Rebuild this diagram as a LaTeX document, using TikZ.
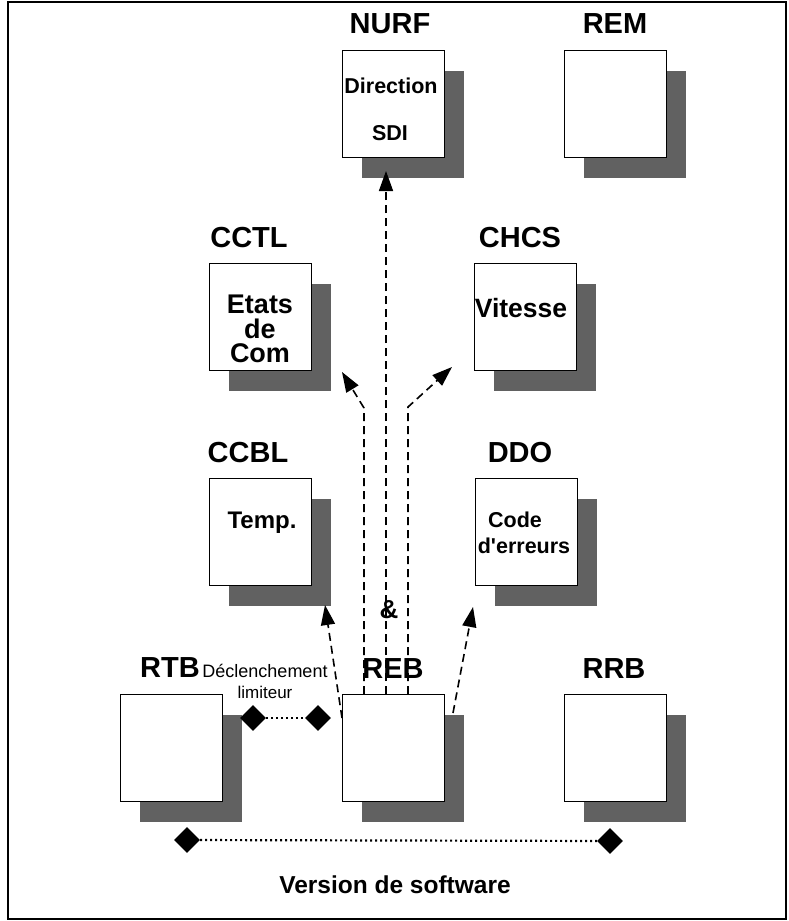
\documentclass[tikz,border=0pt]{standalone}
\usepackage{fontspec}
\setmainfont{Liberation Sans}
\newfontfamily\plainsans{Liberation Sans}
\usetikzlibrary{shapes.geometric,shadows,arrows.meta}
\tikzset{
  sbox/.style={draw, fill=white, line width=1.4pt, minimum width=102pt, minimum height=107pt,
    anchor=north west, inner sep=0pt,
    drop shadow={shadow xshift=19pt, shadow yshift=-20pt, fill=black!62, opacity=1}},
  ttl/.style={anchor=base, font=\fontsize{29}{30}\selectfont\bfseries, inner sep=0pt},
  inner/.style={anchor=base, font=\fontsize{#1}{#1}\selectfont\bfseries, inner sep=0pt},
  small/.style={anchor=base, font=\fontsize{#1}{#1}\selectfont, inner sep=0pt},
  dsh/.style={line width=1.6pt, dash pattern=on 8pt off 5pt, -{Triangle[length=20pt,width=14pt]}},
  dotl/.style={line width=2.2pt, dash pattern=on 2pt off 3pt},
  dmd/.style={diamond, fill=black, minimum width=26pt, minimum height=26pt, inner sep=0pt}
}
\begin{document}
\begin{tikzpicture}[x=1pt,y=-1pt]
\useasboundingbox (0,0) rectangle (788,921);
\draw[line width=1.5pt] (8,2) rectangle (786,919);

% boxes
\node[sbox] (nurf) at (342,50) {};
\node[sbox] (rem)  at (564,50) {};
\node[sbox] (cctl) at (209,263) {};
\node[sbox] (chcs) at (474,263) {};
\node[sbox] (ccbl) at (209,478) {};
\node[sbox] (ddo)  at (475,478) {};
\node[sbox] (rtb)  at (120,694) {};
\node[sbox] (reb)  at (342,694) {};
\node[sbox] (rrb)  at (564,694) {};

% titles
\node[ttl] (tnurf) at (390,33) {NURF};
\node[ttl] (trem)  at (615,33) {REM};
\node[ttl] (tcctl) at (249,247) {CCTL};
\node[ttl] (tchcs) at (520,247) {CHCS};
\node[ttl] (tccbl) at (248,462) {CCBL};
\node[ttl] (tddo)  at (520,462) {DDO};
\node[ttl] (trtb)  at (170,677) {RTB};
\node[ttl] (treb)  at (393,678) {REB};
\node[ttl] (trrb)  at (614,678) {RRB};

% inner texts
\node[inner=21.5] (i1) at (391,93) {Direction};
\node[inner=21.5] (i2) at (390,140) {SDI};
\node[anchor=north, align=center, inner sep=0pt,
      font=\fontsize{27}{24.5}\selectfont\bfseries] (i3) at (260,295) {Etats\\de\\Com};
\node[inner=26.5] (i6) at (521,317) {Vitesse};
\node[inner=24] (i7) at (262,528) {Temp.};
\node[inner=21.5] (i8) at (515,527) {Code};
\node[inner=21.5] (i9) at (524,553) {\plainsans d'erreurs};
\node[small=18] (dl1) at (265,677) {Déclenchement};
\node[small=17] (dl2) at (265,698) {limiteur};
\node[inner=26] (amp) at (389,618) {\&};
\node[inner=24.5] (ver) at (395,893) {Version de software};

% arrows
\coordinate (a1s) at ([xshift=44pt]reb.north west);
\coordinate (a1e) at (386,171);
\draw[dsh] (a1s) -- (a1e);

\coordinate (a2s) at ([xshift=22pt]reb.north west);
\coordinate (a2m) at (364,408);
\coordinate (a2e) at (342,372);
\draw[dsh] (a2s) -- (a2m) -- (a2e);

\coordinate (a3s) at ([xshift=66pt]reb.north west);
\coordinate (a3m) at (408,407);
\coordinate (a3e) at (452,367);
\draw[dsh] (a3s) -- (a3m) -- (a3e);

\coordinate (a4s) at ([yshift=-24pt]reb.north west);
\coordinate (a4e) at (325,605);
\draw[dsh] (a4s) -- (a4e);

\coordinate (a5s) at (453,713);
\coordinate (a5e) at (473,607);
\draw[dsh] (a5s) -- (a5e);

% dotted links
\node[dmd] (d1) at (253,718) {};
\node[dmd] (d2) at (318,718) {};
\draw[dotl] (d1) -- (d2);
\node[dmd] (d3) at (187,840) {};
\node[dmd] (d4) at (610,841) {};
\draw[dotl] (d3) -- (d4);
\end{tikzpicture}
\end{document}
